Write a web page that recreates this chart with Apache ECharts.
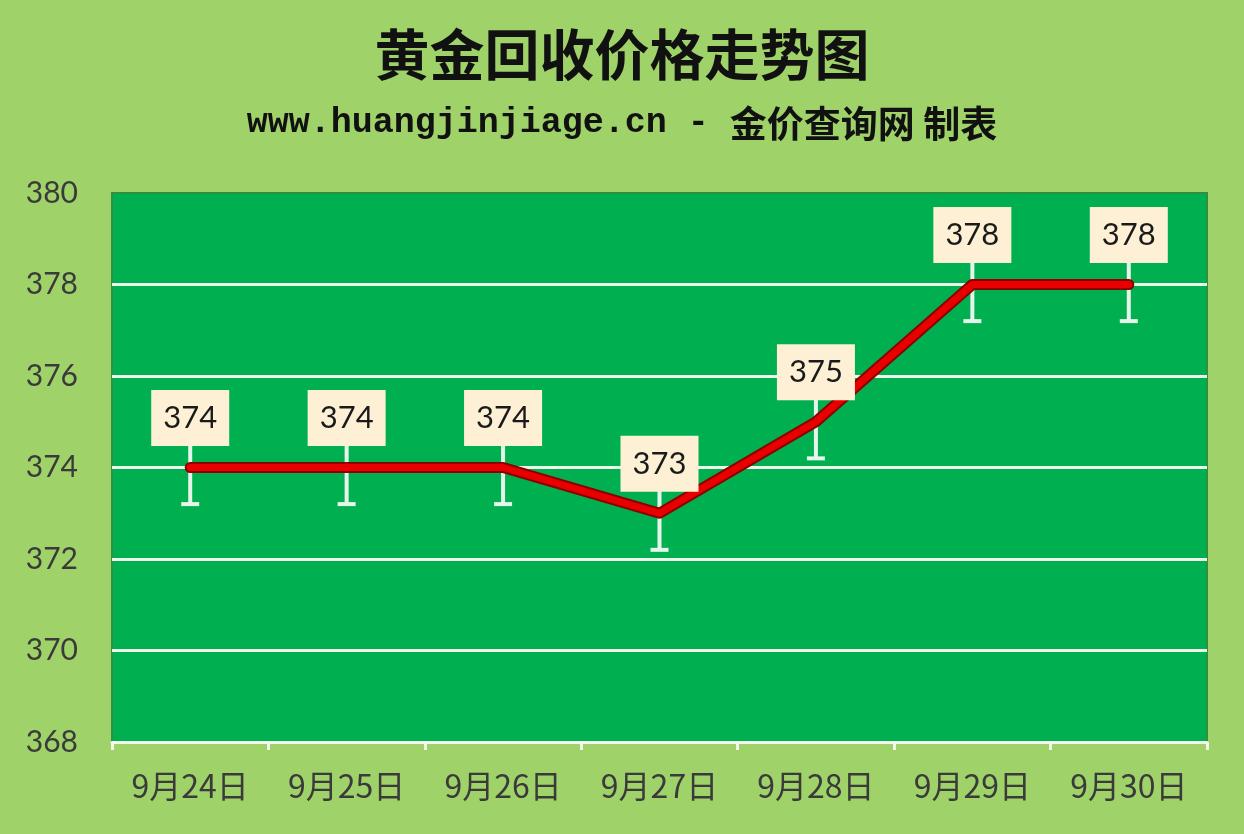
<!DOCTYPE html>
<html><head><meta charset="utf-8">
<script src="https://cdn.jsdelivr.net/npm/echarts@6/dist/echarts.min.js"></script>
<style>html,body{margin:0;padding:0;background:#A0D26A;}#c{width:1244px;height:834px;}</style>
</head><body><div id="c"></div>
<script>
const categories = ['9月24日','9月25日','9月26日','9月27日','9月28日','9月29日','9月30日'];
const prices = [374, 374, 374, 373, 375, 378, 378];
const errorMargin = 0.8;
const yTicks = {min: 368, max: 380, interval: 2};
const titleText = '黄金回收价格走势图';
const subUrl = 'www.huangjinjiage.cn - ';
const subCn = '金价查询网 制表';

const chart = echarts.init(document.getElementById('c'));
const errData = prices.map((v, i) => [i, v]);
chart.setOption({
  backgroundColor: '#A0D26A',
  animation: false,
  title: [
    {text: titleText, left: 'center', top: 22,
     textStyle: {fontFamily: 'Noto Sans CJK SC', fontWeight: 'bold', fontSize: 55, color: '#111'}},
    {text: '{a|' + subUrl + '}{b|' + subCn + '}', left: 'center', top: 100,
     textStyle: {rich: {
       a: {fontFamily: 'Liberation Mono', fontWeight: 'bold', fontSize: 35, color: '#111'},
       b: {fontFamily: 'Noto Sans CJK SC', fontWeight: 'bold', fontSize: 37, color: '#111'}
     }}}
  ],
  grid: {left: 112, right: 37, top: 193, bottom: 92, show: true,
         backgroundColor: '#00B050', borderColor: '#2F9140', borderWidth: 2},
  xAxis: {
    type: 'category', data: categories, boundaryGap: true,
    axisLine: {show: true, lineStyle: {color: '#F2F8EC', width: 3}},
    axisTick: {show: true, length: 8, lineStyle: {color: '#F2F8EC', width: 3}},
    axisLabel: {fontFamily: 'Noto Sans CJK SC', fontSize: 32, color: '#3A3A3A', margin: 28}
  },
  yAxis: {
    type: 'value', min: yTicks.min, max: yTicks.max, interval: yTicks.interval,
    axisLine: {show: false}, axisTick: {show: false},
    axisLabel: {fontFamily: 'Lato', fontSize: 30, color: '#3A3A3A', margin: 34},
    splitLine: {show: true, lineStyle: {width: 3,
      color: ['rgba(0,0,0,0)', '#EEF8EA', '#EEF8EA', '#EEF8EA', '#EEF8EA', '#EEF8EA', 'rgba(0,0,0,0)']}}
  },
  series: [
    {
      type: 'custom', z: 2, data: errData,
      renderItem: function (params, api) {
        const i = api.value(0), v = api.value(1);
        const top = api.coord([i, v + errorMargin]);
        const bot = api.coord([i, v - errorMargin]);
        const w = 9;
        const st = {stroke: '#E6F5EA', lineWidth: 4};
        return {type: 'group', children: [
          {type: 'line', shape: {x1: top[0], y1: top[1], x2: bot[0], y2: bot[1]}, style: st},
          {type: 'line', shape: {x1: bot[0] - w, y1: bot[1], x2: bot[0] + w, y2: bot[1]}, style: st},
          {type: 'line', shape: {x1: top[0] - w, y1: top[1], x2: top[0] + w, y2: top[1]}, style: st}
        ]};
      }
    },
    {
      type: 'line', z: 3, data: prices, symbol: 'none',
      lineStyle: {color: '#8E0000', width: 11, cap: 'round', join: 'round'}
    },
    {
      type: 'line', z: 4, data: prices, symbol: 'circle', symbolSize: 1, showSymbol: true,
      itemStyle: {color: 'rgba(0,0,0,0)'},
      lineStyle: {color: '#E80000', width: 7, cap: 'round', join: 'round'},
      label: {show: true, position: 'top', distance: 21,
        fontFamily: 'Lato', fontSize: 31, color: '#1A1A1A',
        backgroundColor: '#FDF0D4', width: 78, height: 56, lineHeight: 56,
        padding: 0}
    }
  ]
});
</script></body></html>
